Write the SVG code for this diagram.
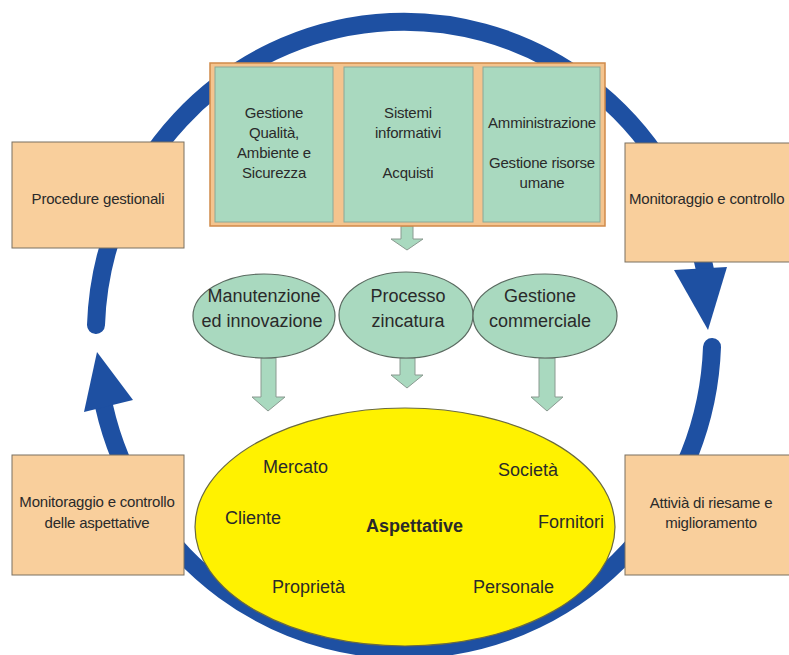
<svg xmlns="http://www.w3.org/2000/svg" width="789" height="655" viewBox="0 0 789 655">
<style>
.loop{fill:none;stroke:#1E50A2;stroke-width:18;stroke-linecap:round}
.head{fill:#1E50A2}
.box{fill:#F9CF9C;stroke:#7a7060;stroke-width:1}
.frame{fill:#F4C48E;stroke:#D08A4A;stroke-width:1.5}
.inner{fill:#A9D9BF;stroke:#8aa898;stroke-width:1}
.oval{fill:#A9D9BF;stroke:#5a6a60;stroke-width:1.2}
.garrow{fill:#A9D9BF;stroke:#8a9a90;stroke-width:1}
.yel{fill:#FFF200;stroke:#6a6a40;stroke-width:1.2}
text{font-family:"Liberation Sans",Arial,sans-serif;fill:#2a2a2a}
.s{font-size:15px;letter-spacing:-0.2px}
.m{font-size:18px}
.c{text-anchor:middle}
.b{font-weight:bold}
</style>
<rect width="789" height="655" fill="#ffffff"/>
<g id="connectors">
<path class="loop" d="M 96 325 A 308 314 0 0 1 705 270"/>
<polygon class="head" points="674,270 727,267 708,330"/>
<path class="loop" d="M 712 347 A 308 314 0 0 1 104 406"/>
<polygon class="head" points="84,412 133,400 97,352"/>
<polygon class="garrow" points="401,226 413,226 413,239 423,239 407,250 391,239 401,239"/>
<polygon class="garrow" points="261,358 276,358 276,397 285,397 268,411 252,397 261,397"/>
<polygon class="garrow" points="400,358 415,358 415,375 423,375 407,388 391,375 400,375"/>
<polygon class="garrow" points="539,358 555,358 555,397 563,397 547,411 531,397 539,397"/>
</g>
<g id="procedure">
<rect class="box" x="12" y="142" width="172" height="106"/>
<text class="s c" x="98" y="204">Procedure gestionali</text>
</g>
<g id="monitoraggio">
<rect class="box" x="625" y="143" width="170" height="119"/>
<text class="s" x="629" y="204">Monitoraggio e controllo</text>
</g>
<g id="monitoraggio-aspettative">
<rect class="box" x="12" y="455" width="172" height="120"/>
<text class="s c" x="97" y="507">Monitoraggio e controllo</text>
<text class="s c" x="97" y="528">delle aspettative</text>
</g>
<g id="riesame">
<rect class="box" x="625" y="455" width="170" height="120"/>
<text class="s c" x="711" y="508">Attivià di riesame e</text>
<text class="s c" x="711" y="528">miglioramento</text>
</g>
<g id="funzioni">
<rect class="frame" x="210" y="63" width="395" height="163"/>
<g id="qualita">
<rect class="inner" x="215" y="67" width="118" height="155"/>
<text class="s c" x="274" y="118">Gestione</text>
<text class="s c" x="274" y="138">Qualità,</text>
<text class="s c" x="274" y="158">Ambiente e</text>
<text class="s c" x="274" y="178">Sicurezza</text>
</g>
<g id="sistemi">
<rect class="inner" x="344" y="67" width="129" height="155"/>
<text class="s c" x="408" y="118">Sistemi</text>
<text class="s c" x="408" y="138">informativi</text>
<text class="s c" x="408" y="178">Acquisti</text>
</g>
<g id="amministrazione">
<rect class="inner" x="483" y="67" width="117" height="155"/>
<text class="s c" x="542" y="128">Amministrazione</text>
<text class="s c" x="542" y="168">Gestione risorse</text>
<text class="s c" x="542" y="188">umane</text>
</g>
</g>
<g id="manutenzione">
<ellipse class="oval" cx="264" cy="316" rx="71" ry="42"/>
<text class="m c" x="264" y="302">Manutenzione</text>
<text class="m c" x="262" y="327">ed innovazione</text>
</g>
<g id="processo">
<ellipse class="oval" cx="406" cy="315" rx="67" ry="43"/>
<text class="m c" x="408" y="302">Processo</text>
<text class="m c" x="408" y="327">zincatura</text>
</g>
<g id="commerciale">
<ellipse class="oval" cx="545" cy="316" rx="72" ry="42"/>
<text class="m c" x="540" y="302">Gestione</text>
<text class="m c" x="540" y="327">commerciale</text>
</g>
<g id="aspettative">
<ellipse class="yel" cx="405" cy="527" rx="210" ry="119"/>
<text class="m" x="263" y="473">Mercato</text>
<text class="m" x="498" y="476">Società</text>
<text class="m" x="225" y="524">Cliente</text>
<text class="m b" x="366" y="532">Aspettative</text>
<text class="m" x="538" y="528">Fornitori</text>
<text class="m" x="272" y="593">Proprietà</text>
<text class="m" x="473" y="593">Personale</text>
</g>
</svg>
